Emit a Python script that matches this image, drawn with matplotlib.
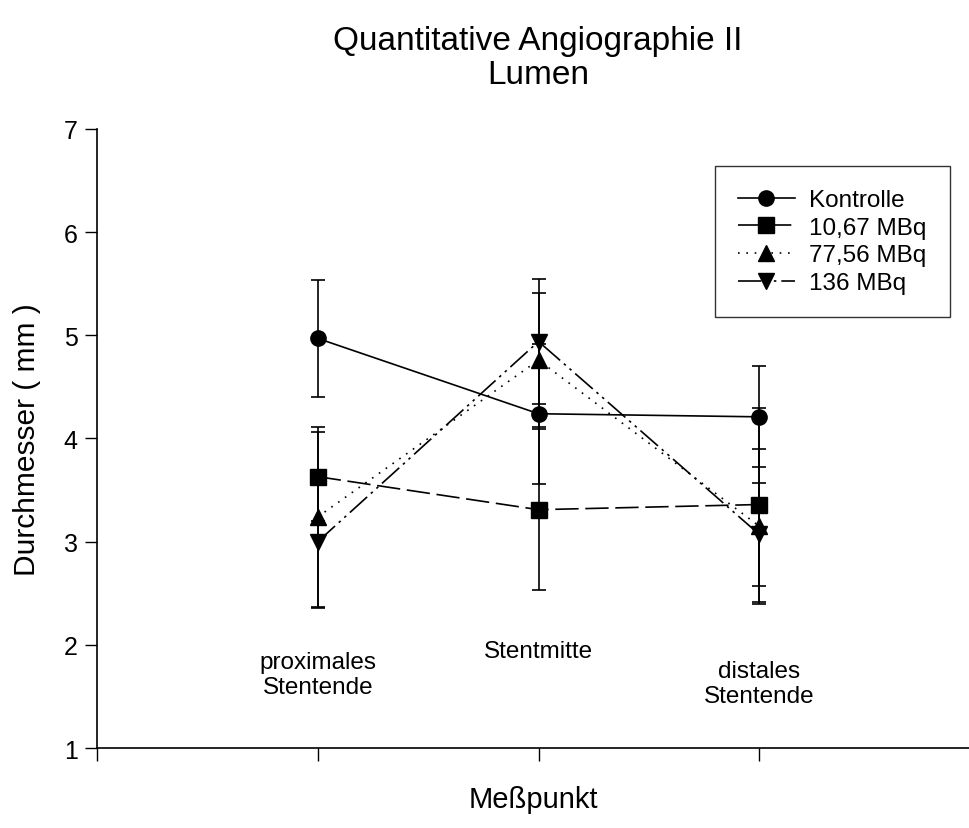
import numpy as np
import matplotlib
matplotlib.use("Agg")
import matplotlib.pyplot as plt

plt.rcParams['font.family'] = ['Liberation Sans', 'DejaVu Sans']

# Messpunkte entlang des Stents
positions = [1, 2, 3]
point_labels = ["proximales\nStentende", "Stentmitte", "distales\nStentende"]
point_label_y = [1.71, 1.94, 1.625]

# Mittelwerte und Standardabweichungen (mm)
kontrolle = [4.97, 4.24, 4.21]
kontrolle_sd = [0.57, 0.68, 0.49]
mbq_10 = [3.63, 3.31, 3.36]
mbq_10_sd = [0.43, 0.78, 0.94]
mbq_77 = [3.24, 4.76, 3.15]
mbq_77_sd = [0.87, 0.65, 0.75]
mbq_136 = [3.00, 4.94, 3.07]
mbq_136_sd = [0.64, 0.61, 0.50]

series = [
    ("Kontrolle", kontrolle, kontrolle_sd, "o", "-"),
    ("10,67 MBq", mbq_10, mbq_10_sd, "s", (0, (14, 4))),
    ("77,56 MBq", mbq_77, mbq_77_sd, "^", (0, (1, 4))),
    ("136 MBq", mbq_136, mbq_136_sd, "v", (0, (14, 3, 1.5, 3, 1.5, 3))),
]

fig = plt.figure(figsize=(9.69, 8.29), dpi=100)
ax = fig.add_axes([0.1001, 0.0965, 0.8999, 0.7467])

for name, vals, sd, mk, ls in series:
    ax.errorbar(positions, vals, yerr=sd, fmt='none', ecolor='black',
                elinewidth=1.2, capsize=5, capthick=1.2, zorder=2)
    ax.plot(positions, vals, color='black', linestyle=ls, linewidth=1.2,
            marker=mk, markersize=11, markerfacecolor='black',
            markeredgecolor='black', label=name, zorder=3)

# Beschriftung der Messpunkte innerhalb der Achse
for x, y, txt in zip(positions, point_label_y, point_labels):
    ax.text(x, y, txt, ha='center', va='center', fontsize=17.5, linespacing=1.15)

ax.set_xlim(0, 3.95)
ax.set_ylim(1, 7)
ax.set_xticks([0, 1, 2, 3])
ax.set_xticklabels([])
ax.set_yticks(range(1, 8))
ax.tick_params(axis='y', labelsize=18, length=9, width=1, direction='out', pad=5)
ax.tick_params(axis='x', length=9, width=1, direction='out')
ax.spines['top'].set_visible(False)
ax.spines['right'].set_visible(False)
ax.spines['left'].set_linewidth(1.2)
ax.spines['bottom'].set_linewidth(1.2)

ax.set_ylabel("Durchmesser ( mm )", fontsize=21.5, va='center')
ax.yaxis.set_label_coords(-0.08, 0.5)
ax.set_xlabel("Meßpunkt", fontsize=21, va='center')
ax.xaxis.set_label_coords(0.5, -0.082)

fig.text(0.555, 0.969, "Quantitative Angiographie II\nLumen", ha='center',
         va='top', fontsize=24, linespacing=1.12)

leg = ax.legend(loc='upper right', bbox_to_anchor=(0.978, 0.940), fontsize=17.5,
                frameon=True, fancybox=False, edgecolor='black',
                handlelength=2.35, handletextpad=0.6, labelspacing=0.23,
                borderpad=0.95, borderaxespad=0)
leg.get_frame().set_linewidth(1.0)

fig.savefig("out.png", dpi=100)
